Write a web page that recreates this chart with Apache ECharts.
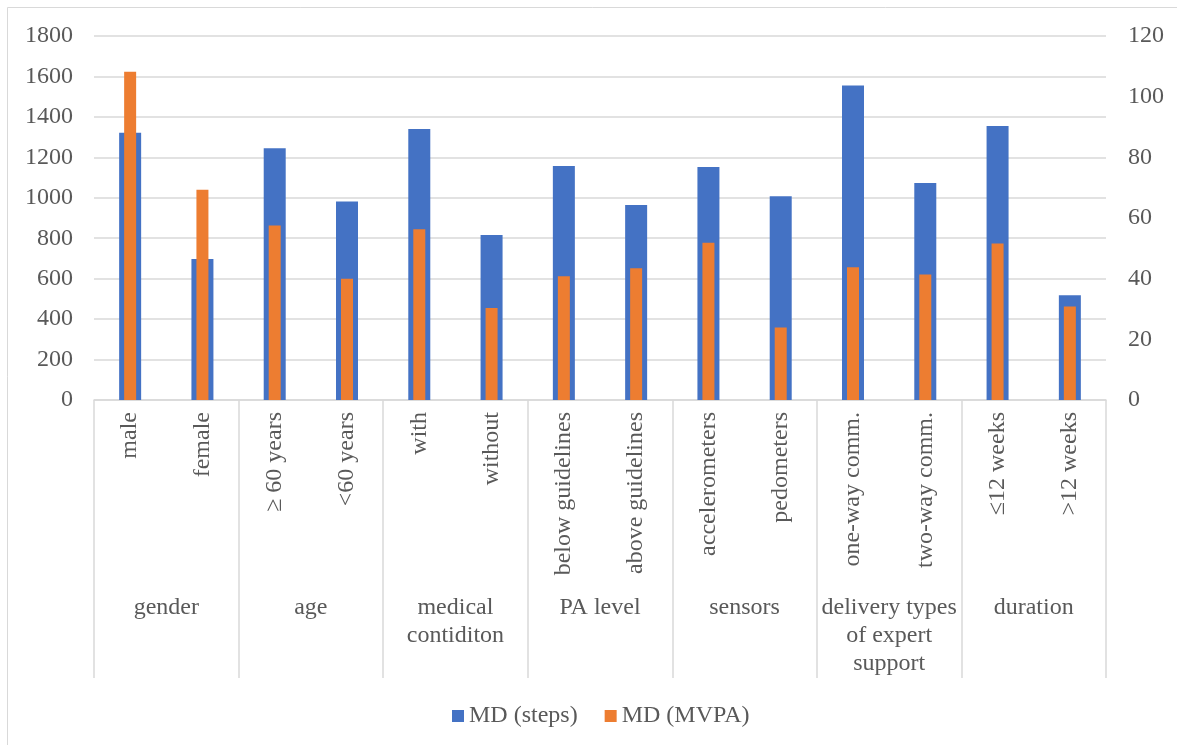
<!DOCTYPE html>
<html>
<head>
<meta charset="utf-8">
<script src="https://cdn.jsdelivr.net/npm/echarts@6/dist/echarts.min.js"></script>
<style>
html,body{margin:0;padding:0;background:#fff;}
#chart{width:1177px;height:745px;}
</style>
</head>
<body>
<div id="chart"></div>
<script>
const categories = ["male","female","\u2265 60 years","<60 years","with","without","below guidelines","above guidelines","accelerometers","pedometers","one-way comm.","two-way comm.","\u226412 weeks",">12 weeks"];
const groups = ["gender","age","medical\ncontiditon","PA level","sensors","delivery types\nof expert\nsupport","duration"];
const stepsMD = [1322, 697, 1245, 981, 1340, 816, 1157, 964, 1152, 1007, 1555, 1073, 1355, 518];
const mvpaMD = [108.2, 69.3, 57.5, 40.0, 56.3, 30.3, 40.8, 43.4, 51.8, 23.9, 43.8, 41.4, 51.6, 30.8];
const leftTicks = {min: 0, max: 1800, interval: 200};
const rightTicks = {min: 0, max: 120, interval: 20};

const FONT = "'Liberation Serif', 'Times New Roman', serif";
const TXT = "#595959";
const GRIDC = "#d9d9d9";

const chart = echarts.init(document.getElementById('chart'));
chart.setOption({
  animation: false,
  backgroundColor: '#fff',
  textStyle: {fontFamily: FONT, color: TXT},
  graphic: [{
    type: 'rect',
    shape: {x: 7.5, y: 7.5, width: 1200, height: 800},
    style: {fill: 'none', stroke: GRIDC, lineWidth: 1},
    silent: true
  }],
  grid: {left: 94, right: 71, top: 36, bottom: 345, containLabel: false},
  legend: {
    bottom: 12,
    left: 447,
    itemWidth: 12,
    itemHeight: 12,
    itemGap: 27,
    icon: 'rect',
    textStyle: {fontFamily: FONT, fontSize: 24, color: TXT},
    data: ['MD (steps)', 'MD (MVPA)']
  },
  xAxis: [
    {
      type: 'category',
      data: categories,
      boundaryGap: true,
      axisLine: {show: true, lineStyle: {color: GRIDC, width: 1.5}},
      axisTick: {show: true, interval: function (idx) { return idx % 2 === 0; }, length: 278, lineStyle: {color: GRIDC, width: 1.5}},
      axisLabel: {rotate: 90, interval: 0, margin: 12, fontFamily: FONT, fontSize: 24, color: TXT}
    },
    {
      type: 'category',
      data: groups,
      position: 'bottom',
      offset: 186,
      boundaryGap: true,
      axisLine: {show: false},
      axisTick: {show: false},
      axisLabel: {interval: 0, margin: 8, fontFamily: FONT, fontSize: 24, color: TXT, lineHeight: 28, verticalAlign: 'top', align: 'center'}
    },
    {
      type: 'category',
      data: categories,
      show: false,
      boundaryGap: true
    }
  ],
  yAxis: [
    {
      type: 'value',
      min: leftTicks.min, max: leftTicks.max, interval: leftTicks.interval,
      axisLine: {show: false},
      axisTick: {show: false},
      splitLine: {show: true, lineStyle: {color: GRIDC, width: 1.5}},
      axisLabel: {margin: 21, fontFamily: FONT, fontSize: 24, color: TXT, formatter: function (v) { return String(v); }}
    },
    {
      type: 'value',
      position: 'right',
      min: rightTicks.min, max: rightTicks.max, interval: rightTicks.interval,
      axisLine: {show: false},
      axisTick: {show: false},
      splitLine: {show: false},
      axisLabel: {margin: 22, fontFamily: FONT, fontSize: 24, color: TXT, formatter: function (v) { return String(v); }}
    }
  ],
  series: [
    {
      name: 'MD (steps)',
      type: 'bar',
      xAxisIndex: 0,
      yAxisIndex: 0,
      barWidth: 22,
      data: stepsMD,
      itemStyle: {color: '#4472C4'},
      z: 2
    },
    {
      name: 'MD (MVPA)',
      type: 'bar',
      xAxisIndex: 2,
      yAxisIndex: 1,
      barWidth: 12,
      data: mvpaMD,
      itemStyle: {color: '#ED7D31'},
      z: 3
    }
  ]
});
</script>
</body>
</html>
